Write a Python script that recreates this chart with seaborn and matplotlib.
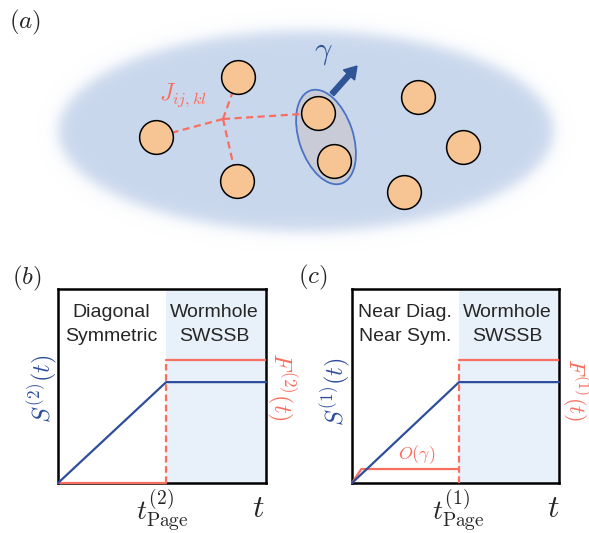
import numpy as np
import pandas as pd
import matplotlib
matplotlib.use("Agg")
import matplotlib.pyplot as plt
from matplotlib.patches import Ellipse, FancyArrow
import seaborn as sns

# ---------------- data ----------------
# panel (a): node positions (pixel-like schematic coordinates)
node_x = [238, 156, 237, 318, 334, 418, 463, 404]
node_y = [77, 137, 181, 113, 161, 97, 147, 192]
junction = (223, 119)
coupled_nodes = [0, 1, 2, 3]          # nodes joined by J_{ij,kl}

# panel (b)
t_page_b = 0.52
S2_t = [0.0, t_page_b, 1.0]
S2_v = [0.0, 0.52, 0.52]
F2_low_t = [0.0, t_page_b]
F2_low_v = [0.0, 0.0]
F2_high_t = [t_page_b, 1.0]
F2_high_v = [0.634, 0.634]

# panel (c)
t_page_c = 0.517
S1_t = [0.0, t_page_c, 1.0]
S1_v = [0.0, 0.52, 0.52]
F1_low_t = [0.0, 0.045, t_page_c]
F1_low_v = [0.0, 0.072, 0.072]
F1_high_t = [t_page_c, 1.0]
F1_high_v = [0.634, 0.634]

BLUE = "#2e4d9b"
RED = "#f86e5f"
SHADE = "#e8f0f9"

sns.set_style("white")
plt.rcParams["mathtext.fontset"] = "cm"
plt.rcParams["font.family"] = ["Liberation Sans", "DejaVu Sans"]

W, H = 589, 533
fig = plt.figure(figsize=(W / 100, H / 100), dpi=100)

# ---------- background axes in pixel coordinates (panel a + free labels) ----------
bg = fig.add_axes([0, 0, 1, 1])

# blurred ellipse
cx, cy, a, b = 306, 131, 247, 100
xx, yy = np.meshgrid(np.arange(0, W, 1.0) + 0.5, np.arange(0, 260, 1.0) + 0.5)
r = np.sqrt(((xx - cx) / a) ** 2 + ((yy - cy) / b) ** 2)
gx = (xx - cx) / a ** 2
gy = (yy - cy) / b ** 2
grad = np.sqrt(gx ** 2 + gy ** 2) / np.maximum(r, 1e-6)
d = (r - 1.0) / np.maximum(grad, 1e-9)
alpha = 1.0 / (1.0 + np.exp(d / 4.0))
img = np.zeros(xx.shape + (4,))
col = np.array([201, 215, 237]) / 255.0
img[..., :3] = col
img[..., 3] = alpha
bg.imshow(img, extent=(0, W, 260, 0), origin="upper", zorder=0, interpolation="bilinear")
bg.set_xlim(0, W)
bg.set_ylim(H, 0)
bg.set_aspect("auto")
bg.axis("off")

# oval around pair of nodes
bg.add_patch(Ellipse((326, 137), 98, 54, angle=71.6, facecolor="#c9ccd6",
                     edgecolor="#4a73c4", lw=1.3, zorder=2))

# dashed coupling lines
for i in coupled_nodes:
    sns.lineplot(x=[junction[0], node_x[i]], y=[junction[1], node_y[i]], ax=bg,
                 color=RED, lw=1.6, linestyle=(0, (3.2, 2)), sort=False,
                 estimator=None, legend=False, zorder=3)

# nodes
nodes = pd.DataFrame({"x": node_x, "y": node_y})
sns.scatterplot(data=nodes, x="x", y="y", ax=bg, s=590, color="#f7c594",
                edgecolor="black", linewidth=1.1, zorder=4, legend=False)
bg.set_xlabel("")
bg.set_ylabel("")

# arrow
bg.add_patch(FancyArrow(332, 94, 17, -19, width=5, head_width=15, head_length=12,
                        length_includes_head=False, color="#2f5597", zorder=5))

bg.text(323, 52, r"$\gamma$", color="#2f5597", fontsize=22, ha="center", va="center")
bg.text(183, 95, r"$J_{ij,kl}$", color=RED, fontsize=17, ha="center", va="center")
bg.text(25, 22, r"$(a)$", fontsize=18, ha="center", va="center")
bg.text(27, 278, r"$(b)$", fontsize=18, ha="center", va="center")
bg.text(313, 277, r"$(c)$", fontsize=18, ha="center", va="center")

# axis-like labels
bg.text(42, 389, r"$S^{(2)}(t)$", color=BLUE, fontsize=17.5, rotation=90, ha="center", va="center")
bg.text(282, 387, r"$F^{(2)}(t)$", color=RED, fontsize=17.5, rotation=-90, ha="center", va="center")
bg.text(335, 392, r"$S^{(1)}(t)$", color=BLUE, fontsize=17.5, rotation=90, ha="center", va="center")
bg.text(575, 390, r"$F^{(1)}(t)$", color=RED, fontsize=16, rotation=-90, ha="center", va="center")
bg.text(162, 510, r"$t_{\mathrm{Page}}^{(2)}$", fontsize=20, ha="center", va="center")
bg.text(458, 510, r"$t_{\mathrm{Page}}^{(1)}$", fontsize=20, ha="center", va="center")
bg.text(258, 509, r"$t$", fontsize=23, ha="center", va="center")
bg.text(553, 509, r"$t$", fontsize=23, ha="center", va="center")


def panel(rect, tp, S_t, S_v, Fl_t, Fl_v, Fh_t, Fh_v, left_txt, otext=False):
    ax = fig.add_axes(rect)
    ax.set_xlim(0, 1)
    ax.set_ylim(0, 1)
    ax.axvspan(tp, 1, color=SHADE, lw=0, zorder=0)
    for s in ax.spines.values():
        s.set_linewidth(1.8)
        s.set_color("black")
    ax.set_xticks([])
    ax.set_yticks([])
    sns.lineplot(x=S_t, y=S_v, ax=ax, color=BLUE, lw=1.6, sort=False,
                 estimator=None, legend=False, zorder=4, clip_on=False)
    sns.lineplot(x=Fl_t, y=Fl_v, ax=ax, color=RED, lw=1.6, sort=False,
                 estimator=None, legend=False, zorder=3, clip_on=False)
    sns.lineplot(x=Fh_t, y=Fh_v, ax=ax, color=RED, lw=1.6, sort=False,
                 estimator=None, legend=False, zorder=3)
    sns.lineplot(x=[tp, tp], y=[0, Fh_v[0]], ax=ax, color=RED, lw=1.6,
                 linestyle=(0, (3, 1.6)), sort=False, estimator=None,
                 legend=False, zorder=3, clip_on=False)
    ax.set_xlabel("")
    ax.set_ylabel("")
    ax.text(0.255, 0.881, left_txt[0], fontsize=14, ha="center", va="center")
    ax.text(0.255, 0.753, left_txt[1], fontsize=14, ha="center", va="center")
    ax.text(0.752, 0.881, "Wormhole", fontsize=14, ha="center", va="center")
    ax.text(0.752, 0.753, "SWSSB", fontsize=14, ha="center", va="center")
    if otext:
        ax.text(0.314, 0.145, r"$O(\gamma)$", color=RED, fontsize=13, ha="center", va="center")
    return ax


panel([58 / W, 50 / H, 208 / W, 194 / H], t_page_b, S2_t, S2_v,
      F2_low_t, F2_low_v, F2_high_t, F2_high_v, ("Diagonal", "Symmetric"))
panel([352 / W, 50 / H, 207 / W, 194 / H], t_page_c, S1_t, S1_v,
      F1_low_t, F1_low_v, F1_high_t, F1_high_v, ("Near Diag.", "Near Sym."), otext=True)

fig.savefig("out.png", dpi=100)
